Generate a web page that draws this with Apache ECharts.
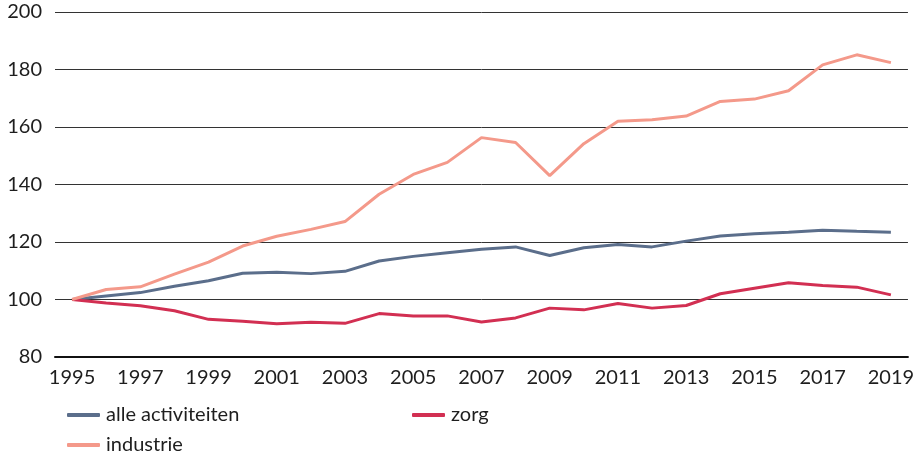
<!DOCTYPE html>
<html>
<head>
<meta charset="utf-8">
<script src="https://cdn.jsdelivr.net/npm/echarts@6/dist/echarts.min.js"></script>
<style>
  html, body { margin: 0; padding: 0; background: #fff; }
  #chart { width: 917px; height: 458px; }
</style>
</head>
<body>
<div id="chart"></div>
<script>
// Index, 1995 = 100
const years = ['1995','1996','1997','1998','1999','2000','2001','2002','2003','2004','2005','2006','2007',
               '2008','2009','2010','2011','2012','2013','2014','2015','2016','2017','2018','2019'];
const alleActiviteiten = [100, 101.2, 102.4, 104.6, 106.5, 109.1, 109.5, 109.0, 109.8, 113.4, 115.0, 116.3, 117.5,
                          118.3, 115.3, 118.0, 119.1, 118.3, 120.3, 122.1, 122.9, 123.4, 124.1, 123.7, 123.4];
const industrie = [100, 103.5, 104.4, 108.8, 113.0, 118.6, 122.0, 124.4, 127.1, 136.6, 143.5, 147.7, 156.3,
                   154.6, 143.1, 154.2, 162.0, 162.5, 163.8, 168.9, 169.7, 172.6, 181.6, 185.1, 182.4];
const zorg = [100, 98.8, 97.8, 96.1, 93.1, 92.4, 91.6, 92.1, 91.7, 95.1, 94.3, 94.3, 92.2,
              93.6, 97.0, 96.4, 98.6, 97.0, 97.9, 102.0, 103.9, 105.8, 104.9, 104.3, 101.6];

const FONT = 'Lato';
const TEXT = '#1e1e1e';
const chart = echarts.init(document.getElementById('chart'), null, { renderer: 'canvas' });

function lineSeries(name, data, color) {
  return {
    name: name,
    type: 'line',
    data: data,
    symbol: 'none',
    lineStyle: { color: color, width: 3 },
    itemStyle: { color: color },
    z: 3
  };
}

// one legend block per entry, laid out in two columns
function legendAt(name, left, top) {
  return {
    left: left,
    top: top,
    padding: 0,
    data: [name],
    icon: 'roundRect',
    itemWidth: 33,
    itemHeight: 4,
    itemGap: 0,
    selectedMode: false,
    textStyle: { fontFamily: FONT, fontSize: 20, color: TEXT, padding: [0, 0, 0, 1] }
  };
}

chart.setOption({
  animation: false,
  backgroundColor: '#fff',
  grid: { left: 55, right: 5, top: 12, bottom: 101, containLabel: false },
  legend: [
    legendAt('alle activiteiten', 67, 405),
    legendAt('industrie', 67, 435),
    legendAt('zorg', 412, 405)
  ],
  xAxis: {
    type: 'category',
    data: years,
    boundaryGap: true,
    axisLine: { show: true, lineStyle: { color: '#111', width: 2 } },
    axisTick: { show: false },
    axisLabel: { interval: 1, margin: 11, fontFamily: FONT, fontSize: 20, color: TEXT }
  },
  yAxis: {
    type: 'value',
    min: 80,
    max: 200,
    interval: 20,
    axisLine: { show: false },
    axisTick: { show: false },
    axisLabel: { margin: 13, fontFamily: FONT, fontSize: 20, color: TEXT },
    splitLine: { lineStyle: { color: '#333', width: 1 } }
  },
  series: [
    lineSeries('alle activiteiten', alleActiviteiten, '#5b6e8b'),
    lineSeries('zorg', zorg, '#d22f52'),
    lineSeries('industrie', industrie, '#f4998a')
  ]
});
</script>
</body>
</html>
